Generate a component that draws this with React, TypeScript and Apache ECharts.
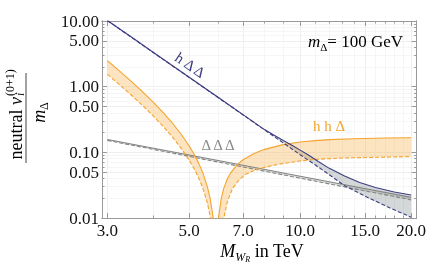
import React, { useEffect, useRef } from "react";
import * as echarts from "echarts";

const SERIF = "Liberation Serif";

// axis values
const xLabelValues = [3, 5, 7, 10, 15, 20];
const xMinorValues = [4, 6, 8, 9, 11, 12, 13, 14, 16, 17, 18, 19];
const yLabelValues = [0.01, 0.05, 0.1, 0.5, 1, 5, 10];
const yMinorValues = [0.02, 0.03, 0.04, 0.06, 0.07, 0.08, 0.09, 0.2, 0.3, 0.4, 0.6, 0.7, 0.8, 0.9, 2, 3, 4, 6, 7, 8, 9];
const xRange = [2.9, 20.7];
const yRange = [0.01, 10];

// h Δ Δ (navy band)
const hddUpperX = [3, 3.5, 4, 5, 6, 7, 8, 8.5, 9, 9.5, 10, 10.5, 11.2, 12, 13.2, 14.5, 16, 18, 20];
const hddUpperY = [10.2, 5.6, 3.32, 1.39, 0.684, 0.375, 0.222, 0.182, 0.151, 0.128, 0.108, 0.0917, 0.0725, 0.057, 0.0435, 0.0348, 0.0292, 0.0249, 0.0224];
const hddLowerX = [3, 3.5, 4, 5, 6, 7, 8, 9, 10, 11, 12, 13.2, 14, 15, 16.6, 18, 20];
const hddLowerY = [10.1, 5.54, 3.29, 1.38, 0.677, 0.371, 0.22, 0.139, 0.092, 0.064, 0.0455, 0.031, 0.0262, 0.0215, 0.0164, 0.0133, 0.0103];

// h h Δ (orange), left branch
const hhdLeftUpperX = [3, 3.25, 3.5, 3.75, 4, 4.25, 4.5, 4.75, 5, 5.15, 5.3, 5.45, 5.6, 5.7, 5.8, 5.87, 5.93];
const hhdLeftUpperY = [2.48, 1.694, 1.173, 0.82, 0.576, 0.403, 0.28, 0.19, 0.125, 0.0946, 0.0691, 0.0479, 0.03, 0.0197, 0.0106, 0.0048, 0.001];
const hhdLeftLowerX = [3, 3.25, 3.5, 3.75, 4, 4.25, 4.5, 4.75, 5, 5.15, 5.3, 5.45, 5.6, 5.7, 5.8, 5.9];
const hhdLeftLowerY = [1.54, 1.05, 0.727, 0.507, 0.355, 0.248, 0.172, 0.116, 0.076, 0.057, 0.0412, 0.028, 0.017, 0.0106, 0.005, 0.001];
// h h Δ (orange), right branch
const hhdRightUpperX = [5.9, 6.0, 6.1, 6.2, 6.35, 6.5, 6.75, 7.0, 7.5, 8, 9, 10, 11, 12, 14, 17, 20];
const hhdRightUpperY = [0.001, 0.0097, 0.019, 0.028, 0.04, 0.05, 0.065, 0.077, 0.096, 0.111, 0.131, 0.144, 0.151, 0.156, 0.161, 0.165, 0.167];
const hhdRightLowerX = [6.0, 6.1, 6.22, 6.35, 6.55, 6.8, 7.1, 7.5, 8.0, 8.75, 10, 11, 13, 16, 20];
const hhdRightLowerY = [0.002, 0.0058, 0.0105, 0.018, 0.028, 0.037, 0.046, 0.053, 0.059, 0.066, 0.074, 0.078, 0.082, 0.084, 0.086];

// Δ Δ Δ (gray band)
const dddUpperX = [3, 5, 7, 10, 14, 20];
const dddUpperY = [0.157, 0.0909, 0.0634, 0.0433, 0.0302, 0.0206];
const dddLowerX = [3, 5, 7, 10, 14, 20];
const dddLowerY = [0.152, 0.0867, 0.0599, 0.0404, 0.0279, 0.0189];

const NAVY = "#3e3e82";
const ORANGE = "#f4a430";
const GRAY = "#858585";
const FRAME = "#9a9a9a";

const L = (v: number) => Math.log10(v);

function pairs(xs: number[], ys: number[]) {
  return xs.map((x, i) => [L(x), L(ys[i])]);
}

function band(upX: number[], upY: number[], loX: number[], loY: number[], fill: string) {
  const pts = pairs(upX, upY).concat(pairs(loX, loY).reverse());
  return {
    type: "custom",
    coordinateSystem: "cartesian2d",
    xAxisIndex: 0,
    yAxisIndex: 0,
    clip: true,
    silent: true,
    z: 1,
    data: [pts[0]],
    renderItem: (_p: any, api: any) => ({
      type: "polygon",
      shape: { points: pts.map((p) => api.coord(p)) },
      style: { fill, stroke: "none" },
    }),
  };
}

function line(xs: number[], ys: number[], color: string, dashed: boolean) {
  return {
    type: "line",
    xAxisIndex: 0,
    yAxisIndex: 0,
    data: pairs(xs, ys),
    showSymbol: false,
    symbol: "none",
    silent: true,
    clip: true,
    z: 3,
    lineStyle: { color, width: 1.1, type: dashed ? [4, 2] : "solid" },
  };
}

function xAxis(pos: string, vals: number[], len: number, labels: boolean, grid: string | null) {
  return {
    type: "value",
    position: pos,
    min: L(xRange[0]),
    max: L(xRange[1]),
    axisLine: { show: true, onZero: false, lineStyle: { color: FRAME, width: 1 } },
    axisTick: { show: true, inside: true, length: len, customValues: vals.map(L), lineStyle: { color: FRAME, width: 1 } },
    axisLabel: labels
      ? {
          show: true,
          customValues: xLabelValues.map(L),
          formatter: (v: number) => Math.pow(10, v).toFixed(1),
          fontFamily: SERIF,
          fontSize: 17,
          color: "#111",
          margin: 4,
        }
      : { show: false },
    splitLine: grid ? { show: true, lineStyle: { color: grid, width: 1 } } : { show: false },
  };
}

function yAxis(pos: string, vals: number[], len: number, labels: boolean, grid: string | null) {
  return {
    type: "value",
    position: pos,
    min: L(yRange[0]),
    max: L(yRange[1]),
    axisLine: { show: true, onZero: false, lineStyle: { color: FRAME, width: 1 } },
    axisTick: { show: true, inside: true, length: len, customValues: vals.map(L), lineStyle: { color: FRAME, width: 1 } },
    axisLabel: labels
      ? {
          show: true,
          customValues: yLabelValues.map(L),
          formatter: (v: number) => Math.pow(10, v).toFixed(2),
          fontFamily: SERIF,
          fontSize: 17,
          color: "#111",
          margin: 3,
        }
      : { show: false },
    splitLine: grid ? { show: true, lineStyle: { color: grid, width: 1 } } : { show: false },
  };
}

export default function App() {
  const ref = useRef<HTMLDivElement>(null);
  useEffect(() => {
    if (!ref.current) return;
    const chart = echarts.init(ref.current, null, { renderer: "svg" });
    const option: any = {
      animation: false,
      grid: { left: 102, top: 21, width: 317, height: 197 },
      xAxis: [
        xAxis("bottom", xLabelValues, 5, true, "#efefef"),
        xAxis("bottom", xMinorValues, 2.5, false, "#f5f5f5"),
        xAxis("top", xLabelValues, 5, false, null),
        xAxis("top", xMinorValues, 2.5, false, null),
      ],
      yAxis: [
        yAxis("left", yLabelValues, 5, true, "#efefef"),
        yAxis("left", yMinorValues, 2.5, false, "#f6f6f6"),
        yAxis("right", yLabelValues, 5, false, null),
        yAxis("right", yMinorValues, 2.5, false, null),
      ],
      series: [
        band(hddUpperX, hddUpperY, hddLowerX, hddLowerY, "rgba(100,110,110,0.27)"),
        band(dddUpperX, dddUpperY, dddLowerX, dddLowerY, "rgba(100,110,110,0.22)"),
        band(hhdLeftUpperX, hhdLeftUpperY, hhdLeftLowerX, hhdLeftLowerY, "rgba(245,165,50,0.3)"),
        band(hhdRightUpperX, hhdRightUpperY, hhdRightLowerX, hhdRightLowerY, "rgba(245,165,50,0.3)"),
        line(dddUpperX, dddUpperY, GRAY, false),
        line(dddLowerX, dddLowerY, GRAY, true),
        line(hhdLeftUpperX, hhdLeftUpperY, ORANGE, false),
        line(hhdLeftLowerX, hhdLeftLowerY, ORANGE, true),
        line(hhdRightUpperX, hhdRightUpperY, ORANGE, false),
        line(hhdRightLowerX, hhdRightLowerY, ORANGE, true),
        line(hddUpperX, hddUpperY, NAVY, false),
        line(hddLowerX, hddLowerY, NAVY, true),
      ],
      graphic: [
        {
          type: "text",
          z: 100,
          x: 190,
          y: 65,
          rotation: -0.6,
          style: { text: "h Δ Δ", align: "center", verticalAlign: "middle", fontFamily: SERIF, fontSize: 15, fill: NAVY },
        },
        {
          type: "text",
          z: 100,
          x: 329,
          y: 126,
          style: { text: "h h Δ", align: "center", verticalAlign: "middle", fontFamily: SERIF, fontSize: 15, fill: ORANGE },
        },
        {
          type: "text",
          z: 100,
          x: 218,
          y: 145,
          style: { text: "Δ Δ Δ", align: "center", verticalAlign: "middle", fontFamily: SERIF, fontSize: 15, fill: "#8a8a8a" },
        },
        {
          type: "text",
          z: 100,
          x: 308,
          y: 41,
          style: {
            text: "{m|m}{d|Δ}{t|= 100 GeV}",
            align: "left",
            verticalAlign: "middle",
            fontFamily: SERIF,
            fontSize: 17,
            fill: "#000",
            rich: {
              m: { fontFamily: SERIF, fontSize: 17, fontStyle: "italic", lineHeight: 22, fill: "#000" },
              d: { fontFamily: SERIF, fontSize: 11, lineHeight: 11, verticalAlign: "bottom", fill: "#000" },
              t: { fontFamily: SERIF, fontSize: 17, lineHeight: 22, fill: "#000" },
            },
          },
        },
        {
          type: "text",
          z: 100,
          x: 262,
          y: 251,
          style: {
            text: "{M|M}{W|W}{R|R}{t| in TeV}",
            align: "center",
            verticalAlign: "middle",
            fontFamily: SERIF,
            fontSize: 18,
            fill: "#000",
            rich: {
              M: { fontFamily: SERIF, fontSize: 18, fontStyle: "italic", lineHeight: 24, fill: "#000" },
              W: { fontFamily: SERIF, fontSize: 12, fontStyle: "italic", lineHeight: 12, verticalAlign: "bottom", fill: "#000" },
              R: { fontFamily: SERIF, fontSize: 8, fontStyle: "italic", lineHeight: 8, verticalAlign: "bottom", fill: "#000" },
              t: { fontFamily: SERIF, fontSize: 18, lineHeight: 24, fill: "#000" },
            },
          },
        },
        {
          type: "group",
          z: 100,
          x: 26,
          y: 118,
          rotation: Math.PI / 2,
          children: [
            {
              type: "text",
              z: 100,
              x: 21,
              y: -10.3,
              style: {
                text: "neutral {v|v}",
                align: "right",
                verticalAlign: "middle",
                fontFamily: SERIF,
                fontSize: 18,
                fill: "#000",
                rich: { v: { fontFamily: SERIF, fontSize: 18, fontStyle: "italic", fill: "#000" } },
              },
            },
            {
              type: "text",
              z: 100,
              x: 22,
              y: -16,
              style: { text: "(0+1)", align: "left", verticalAlign: "middle", fontFamily: SERIF, fontSize: 12, fill: "#000" },
            },
            {
              type: "text",
              z: 100,
              x: 22,
              y: -6,
              style: { text: "i", align: "left", verticalAlign: "middle", fontFamily: SERIF, fontSize: 12, fontStyle: "italic", fill: "#000" },
            },
            {
              type: "line",
              z: 100,
              shape: { x1: -45, y1: 0, x2: 45, y2: 0 },
              style: { stroke: "#444", lineWidth: 1 },
            },
            {
              type: "text",
              z: 100,
              x: 5.5,
              y: 13,
              style: {
                text: "{m|m}{d|Δ}",
                align: "center",
                verticalAlign: "middle",
                fontFamily: SERIF,
                fontSize: 18,
                fill: "#000",
                rich: {
                  m: { fontFamily: SERIF, fontSize: 18, fontStyle: "italic", lineHeight: 22, fill: "#000" },
                  d: { fontFamily: SERIF, fontSize: 12, lineHeight: 12, verticalAlign: "bottom", fill: "#000" },
                },
              },
            },
          ],
        },
      ],
    };
    chart.setOption(option);
    return () => chart.dispose();
  }, []);
  return <div ref={ref} style={{ position: "fixed", left: 0, top: 0, width: 429, height: 266 }} />;
}
